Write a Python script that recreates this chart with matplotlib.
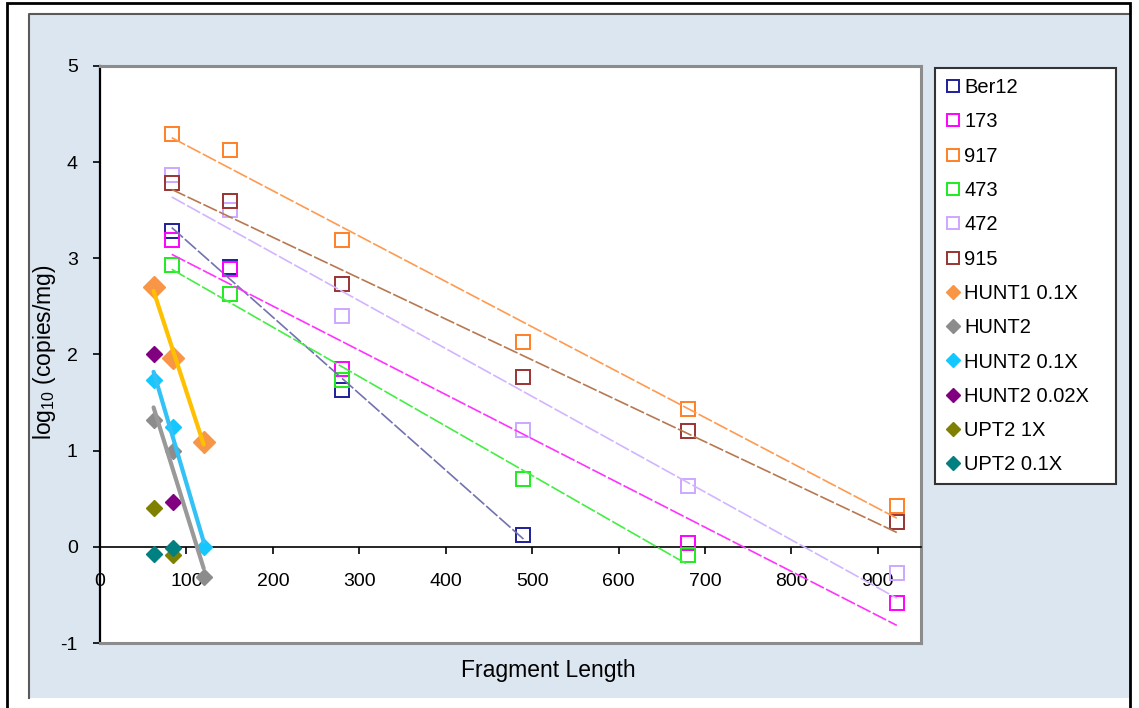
import numpy as np
import matplotlib
matplotlib.use("Agg")
import matplotlib.pyplot as plt
from matplotlib.patches import Rectangle
from matplotlib.lines import Line2D

plt.rcParams['font.family'] = ['Liberation Sans', 'DejaVu Sans']
plt.rcParams['mathtext.default'] = 'regular'
plt.rcParams['axes.unicode_minus'] = False

nan = np.nan

# fragment lengths
sq_x = [83, 150, 280, 490, 680, 922]
hunt_x = [62, 85, 120]

# log10(copies/mg) for the extract series (square markers)
ber12 = [3.28, 2.91, 1.63, 0.12, nan, nan]
s173 = [3.19, 2.89, 1.85, nan, 0.04, -0.58]
s917 = [4.29, 4.13, 3.19, 2.13, 1.43, 0.42]
s473 = [2.93, 2.63, 1.73, 0.71, -0.09, nan]
s472 = [3.87, 3.50, 2.40, 1.22, 0.63, -0.27]
s915 = [3.78, 3.60, 2.73, 1.77, 1.20, 0.26]

# diamond series
hunt1_01x = [2.70, 1.96, 1.09]
hunt2 = [1.32, 1.00, -0.31]
hunt2_01x = [1.74, 1.25, 0.00]
hunt2_002x = [2.00, 0.47, nan]
upt2_1x = [0.40, -0.08, nan]
upt2_01x = [-0.07, -0.01, nan]

square_names = ["Ber12", "173", "917", "473", "472", "915"]
square_vals = [ber12, s173, s917, s473, s472, s915]
square_cols = ["#1F1F99", "#FF00FF", "#FF8026", "#1EEB1E", "#CCA8FF", "#993333"]
square_trend_cols = ["#7272B0", "#FF33FF", "#FF9A50", "#44EE44", "#D2B4FF", "#B87850"]

diamond_names = ["HUNT1 0.1X", "HUNT2", "HUNT2 0.1X", "HUNT2 0.02X", "UPT2 1X", "UPT2 0.1X"]
diamond_vals = [hunt1_01x, hunt2, hunt2_01x, hunt2_002x, upt2_1x, upt2_01x]
diamond_cols = ["#F79646", "#8C8C8C", "#14C8FF", "#800080", "#808000", "#008080"]
diamond_trend_cols = ["#FFC000", "#999999", "#33C2F5", None, None, None]

W, H = 1139, 708
fig = plt.figure(figsize=(W / 100, H / 100), dpi=100)


def fx(px):
    return px / W


def fy(py):
    return 1 - py / H


# chart background and frame
fig.patches.append(Rectangle((fx(29), fy(698)), (1130 - 29) / W, (698 - 14) / H,
                             transform=fig.transFigure, fc="#DCE6F1", ec="none", zorder=-5))
fig.lines.append(Line2D([fx(29), fx(29), fx(1130)], [fy(698), fy(14), fy(14)],
                        transform=fig.transFigure, color="#5A5A5A", lw=1.5, zorder=-4))
fig.patches.append(Rectangle((fx(7), fy(720)), (1130 - 7) / W, (720 - 3) / H,
                             transform=fig.transFigure, fill=False, ec="black", lw=2, zorder=-3))

ax = fig.add_axes([fx(100), fy(643), (921 - 100) / W, (643 - 66) / H])
ax.set_zorder(2)
ax.set_facecolor("white")
ax.set_xlim(0, 950)
ax.set_ylim(-1, 5)

handles = []
for name, vals, col, tcol in zip(square_names, square_vals, square_cols, square_trend_cols):
    x = np.array(sq_x, dtype=float)
    y = np.array(vals, dtype=float)
    ok = ~np.isnan(y)
    ax.plot(x[ok], y[ok], linestyle="none", marker="s", markersize=9.5,
            markerfacecolor="none", markeredgecolor=col, markeredgewidth=1.4, zorder=3)
    handles.append(Line2D([], [], linestyle="none", marker="s", markersize=8.5,
                          markerfacecolor="none", markeredgecolor=col,
                          markeredgewidth=1.4, label=name))
    m, b = np.polyfit(x[ok], y[ok], 1)
    xs = np.array([x[ok].min(), x[ok].max()])
    ax.plot(xs, m * xs + b, color=tcol, lw=1.2, linestyle=(0, (9, 1.5)), zorder=4)

for name, vals, col, tcol in zip(diamond_names, diamond_vals, diamond_cols, diamond_trend_cols):
    x = np.array(hunt_x, dtype=float)
    y = np.array(vals, dtype=float)
    ok = ~np.isnan(y)
    ms = 11 if name == "HUNT1 0.1X" else 8
    ax.plot(x[ok], y[ok], linestyle="none", marker="D", markersize=ms,
            color=col, markeredgecolor=col, zorder=3)
    handles.append(Line2D([], [], linestyle="none", marker="D", markersize=7,
                          color=col, label=name))
    if tcol is not None:
        m, b = np.polyfit(x[ok], y[ok], 1)
        xs = np.array([x[ok].min(), x[ok].max()])
        ax.plot(xs, m * xs + b, color=tcol, lw=3, solid_capstyle="round", zorder=4)

# axes styling: x axis crosses at y = 0
ax.spines["bottom"].set_position(("data", 0))
ax.spines["bottom"].set_color("black")
ax.spines["bottom"].set_linewidth(1.2)
ax.spines["left"].set_color("black")
ax.spines["left"].set_linewidth(1.6)
for s in ["top", "right"]:
    ax.spines[s].set_color("#8C8C8C")
    ax.spines[s].set_linewidth(2.2)
ax.plot([0, 950], [-1, -1], color="#8C8C8C", lw=2.2, clip_on=False, zorder=5)

ax.set_xticks(np.arange(0, 901, 100))
ax.set_yticks(np.arange(-1, 6, 1))
ax.tick_params(axis="x", direction="out", length=5, width=1.2, pad=14, labelsize=14)
ax.tick_params(axis="y", direction="out", length=5, width=1.2, pad=11, labelsize=14)

fig.text(fx(548), fy(670), "Fragment Length", ha="center", va="center", fontsize=16.5)
fig.text(fx(45), fy(352), "log$_{10}$ (copies/mg)", ha="center", va="center",
         rotation=90, fontsize=16.5)

leg = ax.legend(handles=handles, loc="upper left",
                bbox_to_anchor=(fx(935), fy(68) - 0.01, (1116 - 935) / W, 0.01),
                bbox_transform=fig.transFigure, mode="expand",
                frameon=True, fancybox=False, edgecolor="#333333", framealpha=1,
                fontsize=14.5, handlelength=0.8, handletextpad=0.15,
                labelspacing=0.76, borderpad=0.5, borderaxespad=0)
leg.get_frame().set_linewidth(1.5)

fig.savefig("out.png", dpi=100)
